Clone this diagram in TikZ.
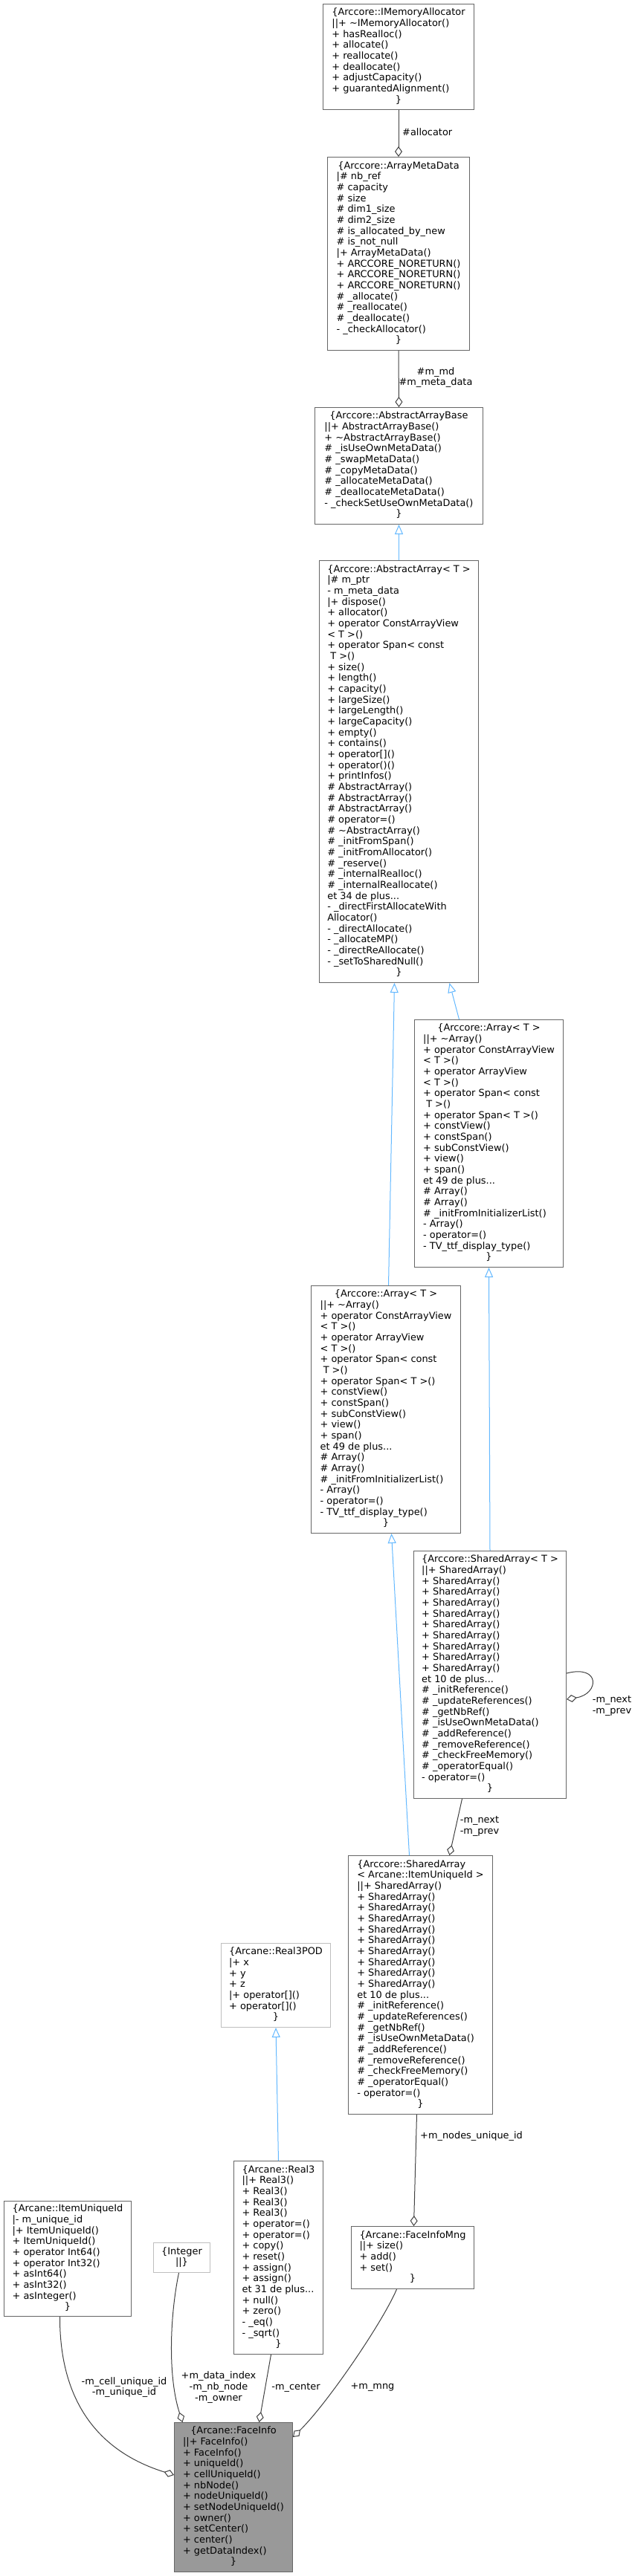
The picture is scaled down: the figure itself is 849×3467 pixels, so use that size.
\documentclass[tikz,border=0pt]{standalone}
\usepackage{fontspec}
\setmainfont{DejaVu Sans}
\usetikzlibrary{arrows.meta}
\definecolor{boxgray}{HTML}{666666}
\definecolor{undocgray}{HTML}{BFBFBF}
\definecolor{edgegray}{HTML}{404040}
\definecolor{inhblue}{HTML}{63B8FF}
\definecolor{focusfill}{HTML}{999999}
\newcommand{\ctitle}[1]{\multicolumn{1}{@{}c@{}}{#1}}
\begin{document}
\begin{tikzpicture}[x=1pt,y=-1pt,
  cls/.style={draw=boxgray, line width=1pt, fill=white, anchor=north west, inner sep=0pt, font=\fontsize{12.9}{14.67}\selectfont},
  undoc/.style={cls, draw=undocgray},
  focus/.style={cls, fill=focusfill},
  agg/.style={draw=edgegray, line width=1pt, -{Diamond[open,length=14pt,width=10pt]}},
  inh/.style={draw=inhblue, line width=1pt, -{Triangle[open,length=13pt,width=11pt,fill=white]}},
  lbl/.style={font=\fontsize{12.9}{14.67}\selectfont, inner sep=0pt, align=center}]
\useasboundingbox (0,0) rectangle (849,3467);
% classes
\node[cls, minimum width=203pt, minimum height=142pt] (ima) at (434,5) {\begin{tabular}{@{}l@{}}
\ctitle{\{Arccore::IMemoryAllocator}\\
||+ \textasciitilde IMemoryAllocator()\\
+ hasRealloc()\\
+ allocate()\\
+ reallocate()\\
+ deallocate()\\
+ adjustCapacity()\\
+ guarantedAlignment()\\
\ctitle{\}}
\end{tabular}};
\node[cls, minimum width=191pt, minimum height=260pt] (amd) at (440,211) {\begin{tabular}{@{}l@{}}
\ctitle{\{Arccore::ArrayMetaData}\\
|\# nb\_ref\\
\# capacity\\
\# size\\
\# dim1\_size\\
\# dim2\_size\\
\# is\_allocated\_by\_new\\
\# is\_not\_null\\
|+ ArrayMetaData()\\
+ ARCCORE\_NORETURN()\\
+ ARCCORE\_NORETURN()\\
+ ARCCORE\_NORETURN()\\
\# \_allocate()\\
\# \_reallocate()\\
\# \_deallocate()\\
- \_checkAllocator()\\
\ctitle{\}}
\end{tabular}};
\node[cls, minimum width=226pt, minimum height=157pt] (aab) at (423,548) {\begin{tabular}{@{}l@{}}
\ctitle{\{Arccore::AbstractArrayBase}\\
||+ AbstractArrayBase()\\
+ \textasciitilde AbstractArrayBase()\\
\# \_isUseOwnMetaData()\\
\# \_swapMetaData()\\
\# \_copyMetaData()\\
\# \_allocateMetaData()\\
\# \_deallocateMetaData()\\
- \_checkSetUseOwnMetaData()\\
\ctitle{\}}
\end{tabular}};
\node[cls, minimum width=214pt, minimum height=568pt] (aa) at (429,754) {\begin{tabular}{@{}l@{}}
\ctitle{\{Arccore::AbstractArray< T >}\\
|\# m\_ptr\\
- m\_meta\_data\\
|+ dispose()\\
+ allocator()\\
+ operator ConstArrayView\\
< T >()\\
+ operator Span< const\\
\ T >()\\
+ size()\\
+ length()\\
+ capacity()\\
+ largeSize()\\
+ largeLength()\\
+ largeCapacity()\\
+ empty()\\
+ contains()\\
+ operator[]()\\
+ operator()()\\
+ printInfos()\\
\# AbstractArray()\\
\# AbstractArray()\\
\# AbstractArray()\\
\# operator=()\\
\# \textasciitilde AbstractArray()\\
\# \_initFromSpan()\\
\# \_initFromAllocator()\\
\# \_reserve()\\
\# \_internalRealloc()\\
\# \_internalReallocate()\\
et 34 de plus...\\
- \_directFirstAllocateWith\\
Allocator()\\
- \_directAllocate()\\
- \_allocateMP()\\
- \_directReAllocate()\\
- \_setToSharedNull()\\
\ctitle{\}}
\end{tabular}};
\node[cls, minimum width=200pt, minimum height=333pt] (arr) at (557,1372) {\begin{tabular}{@{}l@{}}
\ctitle{\{Arccore::Array< T >}\\
||+ \textasciitilde Array()\\
+ operator ConstArrayView\\
< T >()\\
+ operator ArrayView\\
< T >()\\
+ operator Span< const\\
\ T >()\\
+ operator Span< T >()\\
+ constView()\\
+ constSpan()\\
+ subConstView()\\
+ view()\\
+ span()\\
et 49 de plus...\\
\# Array()\\
\# Array()\\
\# \_initFromInitializerList()\\
- Array()\\
- operator=()\\
- TV\_ttf\_display\_type()\\
\ctitle{\}}
\end{tabular}};
\node[cls, minimum width=201pt, minimum height=333pt] (arl) at (418,1730) {\begin{tabular}{@{}l@{}}
\ctitle{\{Arccore::Array< T >}\\
||+ \textasciitilde Array()\\
+ operator ConstArrayView\\
< T >()\\
+ operator ArrayView\\
< T >()\\
+ operator Span< const\\
\ T >()\\
+ operator Span< T >()\\
+ constView()\\
+ constSpan()\\
+ subConstView()\\
+ view()\\
+ span()\\
et 49 de plus...\\
\# Array()\\
\# Array()\\
\# \_initFromInitializerList()\\
- Array()\\
- operator=()\\
- TV\_ttf\_display\_type()\\
\ctitle{\}}
\end{tabular}};
\node[cls, minimum width=205pt, minimum height=333pt] (sat) at (556,2087) {\begin{tabular}{@{}l@{}}
\ctitle{\{Arccore::SharedArray< T >}\\
||+ SharedArray()\\
+ SharedArray()\\
+ SharedArray()\\
+ SharedArray()\\
+ SharedArray()\\
+ SharedArray()\\
+ SharedArray()\\
+ SharedArray()\\
+ SharedArray()\\
+ SharedArray()\\
et 10 de plus...\\
\# \_initReference()\\
\# \_updateReferences()\\
\# \_getNbRef()\\
\# \_isUseOwnMetaData()\\
\# \_addReference()\\
\# \_removeReference()\\
\# \_checkFreeMemory()\\
\# \_operatorEqual()\\
- operator=()\\
\ctitle{\}}
\end{tabular}};
\node[cls, minimum width=194pt, minimum height=348pt] (sai) at (468,2497) {\begin{tabular}{@{}l@{}}
\{Arccore::SharedArray\\
< Arcane::ItemUniqueId >\\
||+ SharedArray()\\
+ SharedArray()\\
+ SharedArray()\\
+ SharedArray()\\
+ SharedArray()\\
+ SharedArray()\\
+ SharedArray()\\
+ SharedArray()\\
+ SharedArray()\\
+ SharedArray()\\
et 10 de plus...\\
\# \_initReference()\\
\# \_updateReferences()\\
\# \_getNbRef()\\
\# \_isUseOwnMetaData()\\
\# \_addReference()\\
\# \_removeReference()\\
\# \_checkFreeMemory()\\
\# \_operatorEqual()\\
- operator=()\\
\ctitle{\}}
\end{tabular}};
\node[undoc, minimum width=147pt, minimum height=113pt] (rpod) at (297,2615) {\begin{tabular}{@{}l@{}}
\ctitle{\{Arcane::Real3POD}\\
|+ x\\
+ y\\
+ z\\
|+ operator[]()\\
+ operator[]()\\
\ctitle{\}}
\end{tabular}};
\node[cls, minimum width=120pt, minimum height=260pt] (real) at (314,2908) {\begin{tabular}{@{}l@{}}
\ctitle{\{Arcane::Real3}\\
||+ Real3()\\
+ Real3()\\
+ Real3()\\
+ Real3()\\
+ operator=()\\
+ operator=()\\
+ copy()\\
+ reset()\\
+ assign()\\
+ assign()\\
et 31 de plus...\\
+ null()\\
+ zero()\\
- \_eq()\\
- \_sqrt()\\
\ctitle{\}}
\end{tabular}};
\node[cls, minimum width=171pt, minimum height=155pt] (iuid) at (5,2962) {\begin{tabular}{@{}l@{}}
\ctitle{\{Arcane::ItemUniqueId}\\
|- m\_unique\_id\\
|+ ItemUniqueId()\\
+ ItemUniqueId()\\
+ operator Int64()\\
+ operator Int32()\\
+ asInt64()\\
+ asInt32()\\
+ asInteger()\\
\ctitle{\}}
\end{tabular}};
\node[undoc, minimum width=76pt, minimum height=40pt] (intg) at (206,3018) {\begin{tabular}{@{}l@{}}
\ctitle{\{Integer}\\
\ctitle{||\}}
\end{tabular}};
\node[cls, minimum width=165pt, minimum height=84pt] (fim) at (472,2996) {\begin{tabular}{@{}l@{}}
\ctitle{\{Arcane::FaceInfoMng}\\
||+ size()\\
+ add()\\
+ set()\\
\ctitle{\}}
\end{tabular}};
\node[focus, minimum width=159pt, minimum height=201pt] (fi) at (234,3260) {\begin{tabular}{@{}l@{}}
\ctitle{\{Arcane::FaceInfo}\\
||+ FaceInfo()\\
+ FaceInfo()\\
+ uniqueId()\\
+ cellUniqueId()\\
+ nbNode()\\
+ nodeUniqueId()\\
+ setNodeUniqueId()\\
+ owner()\\
+ setCenter()\\
+ center()\\
+ getDataIndex()\\
\ctitle{\}}
\end{tabular}};
% relations
\draw[agg] (ima.south) -- (amd.north);
\draw[agg] (amd.south) -- (aab.north);
\draw[inh] (aa.north) -- (aab.south);
\draw[inh] ([xshift=-40pt]arr.north) -- ([xshift=68pt]aa.south);
\draw[inh] ([xshift=3.5pt]arl.north) -- ([xshift=-6pt]aa.south);
\draw[inh] (sat.north) -- (arr.south);
\draw[inh] ([xshift=-15pt]sai.north) -- ([xshift=7.5pt]arl.south);
\draw[agg] ([xshift=-37.5pt]sat.south) -- ([xshift=39pt]sai.north);
\draw[agg] ([yshift=-165pt]sat.north east) .. controls (808,2240) and (806,2280) .. ([yshift=-200pt]sat.north east);
\draw[agg] ([xshift=-5pt]sai.south) -- ([xshift=1.5pt]fim.north);
\draw[inh] (real.north) -- (rpod.south);
\draw[agg] ([xshift=-10.5pt]iuid.south) .. controls (80,3250) and (150,3305) .. ([yshift=-71pt]fi.north west);
\draw[agg] ([xshift=-4pt]intg.south) .. controls (228,3120) and (226,3200) .. ([xshift=-68.5pt]fi.north);
\draw[agg] ([xshift=-10pt]real.south) -- ([xshift=34.5pt]fi.north);
\draw[agg] ([xshift=-21.5pt]fim.south) .. controls (515,3125) and (440,3235) .. ([yshift=-20pt]fi.north east);
% labels
\node[lbl, anchor=west] (lalloc) at (541,178) {\#allocator};
\node[lbl] (lmd) at (586,508) {\#m\_md\\\#m\_meta\_data};
\node[lbl] (lnext) at (645,2458) {-m\_next\\-m\_prev};
\node[lbl] (lloop) at (823,2296) {-m\_next\\-m\_prev};
\node[lbl, anchor=west] (lnodes) at (565,2875) {+m\_nodes\_unique\_id};
\node[lbl] (lcell) at (167,3213) {-m\_cell\_unique\_id\\-m\_unique\_id};
\node[lbl] (ldata) at (294,3213) {+m\_data\_index\\-m\_nb\_node\\-m\_owner};
\node[lbl] (lcenter) at (398,3213) {-m\_center};
\node[lbl] (lmng) at (501,3213) {+m\_mng};
\end{tikzpicture}
\end{document}
